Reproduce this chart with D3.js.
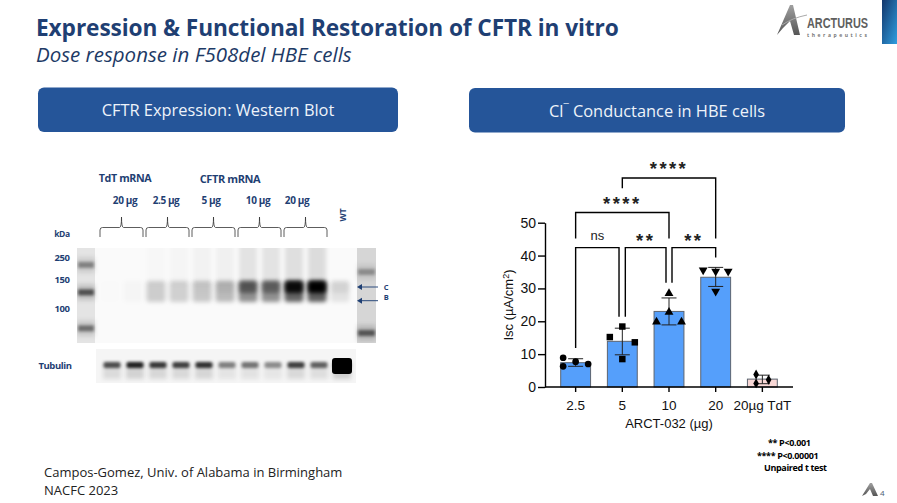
<!DOCTYPE html>
<html>
<head>
<meta charset="utf-8">
<script src="https://cdn.jsdelivr.net/npm/d3@7"></script>
<style>
html,body{margin:0;padding:0;background:#fff;}
svg{display:block;}
text{font-family:"Open Sans",sans-serif;}
.g text,.gt{font-family:"Liberation Sans",Arial,sans-serif;}
</style>
</head>
<body>
<svg id="c" width="897" height="503" viewBox="0 0 897 503"></svg>
<script>
// ---------- bar chart data ----------
const doses = ["2.5", "5", "10", "20", "20µg TdT"];
const barMeans = [7.4, 13.9, 23, 33.4, 2.4];
const errLow = [6.3, 9.8, 18.9, 30.6, 1.0];
const errHigh = [8.6, 17.9, 27.1, 36.4, 3.6];
const pts2_5 = [8.9, 7.7, 6.3, 7.0];
const pts5 = [18.4, 15.2, 13.6, 8.5];
const pts10 = [28.5, 22.8, 19.8, 19.8];
const pts20 = [35.6, 35.2, 35.2, 29.1];
const ptsTdT = [3.8, 2.2, 1.1];
const slots2_5 = [-1, 0, -1, 1];
const slots5 = [0, -1, 1, 0];
const slots10 = [0, 0, -1, 1];
const slots20 = [-1, 0, 1, 0];
const slotsTdT = [-0.5, 0.5, -0.5];
const yTicks = [0, 10, 20, 30, 40, 50];
// brackets: from group, to group, label, top value, end values
const brFrom = [0, 1, 2, 0, 1];
const brTo = [1, 2, 3, 2, 3];
const brLabel = ["ns", "**", "**", "****", "****"];
const brTop = [42.4, 42.4, 42.4, 53.1, 63.6];
const brEndA = [11.9, 21.4, 31.7, 45.2, 60.5];
const brEndB = [21.4, 31.7, 39.4, 45.2, 45.2];

// ---------- western blot data ----------
const laneNames = ["T1","T2","2.5a","2.5b","5a","5b","10a","10b","20a","20b","WT"];
const bandBody = [0.005, 0.02, 0.18, 0.17, 0.2, 0.25, 0.42, 0.42, 0.6, 0.62, 0.09];
const bandCore = [0, 0, 0, 0, 0.02, 0.06, 0.42, 0.36, 0.9, 1.0, 0.07];
const smear = [0, 0, 0.012, 0.02, 0.03, 0.04, 0.09, 0.09, 0.11, 0.12, 0.0];
const tubulin = [0.66, 0.85, 0.75, 0.72, 0.78, 0.45, 0.5, 0.4, 0.72, 0.58, 1.0];
const kdaLabels = [250, 150, 100];
const ladderLeft = [214, 127, 65];
const ladderLeftI = [0.38, 0.6, 0.46];
const ladderRight = [182, 57];
const ladderRightI = [0.3, 0.55];
const doseGroups = ["20 µg", "2.5 µg", "5 µg", "10 µg", "20 µg"];

const svg = d3.select("#c");
const defs = svg.append("defs");
const blur = (id, s) => defs.append("filter").attr("id", id)
  .attr("x", "-50%").attr("y", "-80%").attr("width", "200%").attr("height", "260%")
  .append("feGaussianBlur").attr("stdDeviation", s);
blur("b1", 1.6); blur("b2", 2.2); blur("b3", 3.2); blur("b4", 0.6);
const lg = defs.append("linearGradient").attr("id", "corner")
  .attr("x1", 0).attr("y1", 0).attr("x2", 1).attr("y2", 1);
lg.append("stop").attr("offset", 0).attr("stop-color", "#13366b");
lg.append("stop").attr("offset", 1).attr("stop-color", "#2f9ee0");
const lg2 = defs.append("linearGradient").attr("id", "logoG")
  .attr("x1", 0).attr("y1", 0).attr("x2", 0).attr("y2", 1);
lg2.append("stop").attr("offset", 0).attr("stop-color", "#a0a0a0");
lg2.append("stop").attr("offset", 1).attr("stop-color", "#555");
defs.append("clipPath").attr("id", "blotClip").append("rect")
  .attr("x", 95).attr("y", 248).attr("width", 262).attr("height", 95);
defs.append("clipPath").attr("id", "tubClip").append("rect")
  .attr("x", 96).attr("y", 349).attr("width", 260).attr("height", 34);
defs.append("clipPath").attr("id", "ladClip").append("rect")
  .attr("x", 77).attr("y", 248).attr("width", 299).attr("height", 95);

const navy = "#1f3f73";

// ---------- header ----------
svg.append("text").attr("x", 36).attr("y", 36).attr("fill", navy)
  .attr("font-size", 22.7).attr("font-weight", 700).style("letter-spacing", "-0.1px")
  .text("Expression & Functional Restoration of CFTR in vitro");
svg.append("text").attr("x", 36).attr("y", 62).attr("fill", "#1d3a66")
  .attr("font-size", 20.5).attr("font-style", "italic")
  .text("Dose response in F508del HBE cells");

function btn(x, y, w, h) {
  svg.append("rect").attr("x", x).attr("y", y).attr("width", w).attr("height", h)
    .attr("rx", 6).attr("fill", "#255599");
}
btn(38, 87.5, 360, 44.5);
btn(469, 88, 376, 44.5);
svg.append("text").attr("x", 218).attr("y", 116).attr("text-anchor", "middle")
  .attr("fill", "#eef3fa").attr("font-size", 16.4).text("CFTR Expression: Western Blot");
const cl = svg.append("text").attr("x", 657).attr("y", 117).attr("text-anchor", "middle")
  .attr("fill", "#eef3fa").attr("font-size", 16.4);
cl.append("tspan").text("Cl");
cl.append("tspan").attr("dy", -5).attr("font-size", 10.5).text("¯");
cl.append("tspan").attr("dy", 5).text(" Conductance in HBE cells");

// ---------- logo ----------
svg.append("rect").attr("x", 882).attr("y", 0).attr("width", 15).attr("height", 44).attr("fill", "url(#corner)");
const logoLine = d3.line();
svg.append("path").attr("fill", "url(#logoG)")
  .attr("d", logoLine([[777,35],[790,5],[793,5],[800,35],[794,35],[790,21],[783,28]]) + "Z");
svg.append("path").attr("fill", "none").attr("stroke", "#aaa").attr("stroke-width", 1)
  .attr("d", "M782 25Q792 18 807 15");
svg.append("text").attr("x", 807).attr("y", 28).attr("fill", "#5f5f5f").attr("font-size", 14)
  .attr("font-weight", 700).style("font-family", "'Liberation Sans Narrow','Liberation Sans'")
  .attr("textLength", 61).attr("lengthAdjust", "spacingAndGlyphs").text("ARCTURUS");
svg.append("text").attr("x", 807).attr("y", 37).attr("fill", "#777").attr("font-size", 5)
  .attr("font-weight", 700).attr("textLength", 60).text("therapeutics");

// ---------- western blot ----------
const lane = d3.scalePoint().domain(laneNames).range([112, 342]);
const laneM = n => lane(n) - 2;
const kda = d3.scaleLinear().domain([57, 100, 150, 250]).range([333, 308, 279, 257]);

svg.append("rect").attr("x", 77).attr("y", 248).attr("width", 299).attr("height", 95).attr("fill", "#fafafa");
const blot = svg.append("g").attr("clip-path", "url(#blotClip)");
const ink = (v, k) => `rgba(0,0,0,${Math.min(1, v * k)})`;
// smear upward
blot.selectAll(".sm").data(laneNames).join("rect")
  .attr("x", d => laneM(d) - 9).attr("width", 18)
  .attr("y", 240).attr("height", 45)
  .attr("fill", (d, i) => ink(smear[i], 1)).attr("filter", "url(#b2)");
// broad body of the band
blot.selectAll(".ha").data(laneNames).join("rect")
  .attr("x", d => laneM(d) - 9.5).attr("width", 19)
  .attr("y", kda(150) + 2).attr("height", 21).attr("rx", 3)
  .attr("fill", (d, i) => ink(bandBody[i], 1)).attr("filter", "url(#b2)");
// dense core of the band
blot.selectAll(".bd").data(laneNames).join("rect")
  .attr("x", d => laneM(d) - 9).attr("width", 18)
  .attr("y", kda(150) + 2).attr("height", 12).attr("rx", 3)
  .attr("fill", (d, i) => ink(bandCore[i], 1)).attr("filter", "url(#b2)");

// ladders
function ladder(x, w, fill, vals, ints) {
  const g = svg.append("g").attr("clip-path", "url(#ladClip)");
  g.append("rect").attr("x", x).attr("y", 248).attr("width", w).attr("height", 95).attr("fill", fill);
  g.selectAll("rect.l").data(vals).join("rect").attr("class", "l")
    .attr("x", x + 1).attr("width", w - 2)
    .attr("y", d => kda(d) - 3).attr("height", 6)
    .attr("fill", (d, i) => ink(ints[i], 1)).attr("filter", "url(#b1)");
  g.selectAll("rect.h").data(vals).join("rect").attr("class", "h")
    .attr("x", x).attr("width", w)
    .attr("y", d => kda(d) - 8).attr("height", 16)
    .attr("fill", (d, i) => ink(ints[i], 0.25)).attr("filter", "url(#b2)");
}
ladder(77, 18, "#e4e4e4", ladderLeft, ladderLeftI);
ladder(357, 19, "#d6d6d6", ladderRight, ladderRightI);

// tubulin
svg.append("rect").attr("x", 96).attr("y", 349).attr("width", 260).attr("height", 34).attr("fill", "#f5f5f5");
const tub = svg.append("g").attr("clip-path", "url(#tubClip)");
tub.selectAll(".ts").data(laneNames).join("rect")
  .attr("x", d => lane(d) - 9).attr("width", 18).attr("y", 363).attr("height", 16)
  .attr("fill", (d, i) => ink(tubulin[i], 0.16)).attr("filter", "url(#b2)");
tub.selectAll(".tb").data(laneNames).join("rect")
  .attr("x", d => lane(d) - 8.5).attr("width", 17)
  .attr("y", 362).attr("height", 6).attr("rx", 2)
  .attr("fill", (d, i) => ink(tubulin[i], 1)).attr("filter", "url(#b1)");
tub.selectAll(".tc").data(laneNames.slice(10)).join("rect")
  .attr("x", d => lane(d) - 10).attr("width", 20).attr("y", 358).attr("height", 16).attr("rx", 3)
  .attr("fill", "#000").attr("filter", "url(#b4)");

// lane-group braces
const groups = d3.range(5).map(i => (laneM(laneNames[2 * i]) + laneM(laneNames[2 * i + 1])) / 2);
svg.selectAll(".brace").data(groups).join("path").attr("fill", "none")
  .attr("stroke", "#333").attr("stroke-width", 0.8)
  .attr("d", c => `M${c-21.5} 237V230Q${c-21.5} 227.5 ${c-19} 227.5H${c-2}Q${c} 227.5 ${c} 217Q${c} 227.5 ${c+2} 227.5H${c+19}Q${c+21.5} 227.5 ${c+21.5} 230V237`);

const lab = (x, y, t, size, anchor) => svg.append("text").attr("x", x).attr("y", y)
  .attr("fill", navy).attr("font-size", size).attr("font-weight", 700)
  .attr("text-anchor", anchor || "middle").style("letter-spacing", "-0.4px").text(t);
lab(125, 181.5, "TdT mRNA", 10.7);
lab(230, 182.5, "CFTR mRNA", 11);
[125, 166, 211, 258, 297].forEach((x, i) => lab(x, 203.5, doseGroups[i], 10));
lab(62, 237, "kDa", 8.5);
kdaLabels.forEach(k => lab(62, kda(k) + 3.5, k, 9.5));
lab(55, 369, "Tubulin", 9.5);
svg.append("text").attr("transform", "translate(346,215) rotate(-90)").attr("text-anchor", "middle")
  .attr("fill", navy).attr("font-size", 8.5).attr("font-weight", 700).text("WT");
lab(386, 290, "C", 7.5);
lab(386, 300, "B", 7.5);
[287, 300.7].forEach(y => {
  svg.append("line").attr("x1", 378).attr("x2", 360).attr("y1", y).attr("y2", y)
    .attr("stroke", "#2a4a7c").attr("stroke-width", 1);
  svg.append("path").attr("fill", "#1f3f73").attr("d", `M357 ${y}l5 -3v6z`);
});

// ---------- bar chart ----------
const x = d3.scaleBand().domain(doses).range([552.3, 785.7]).paddingInner(0.36).paddingOuter(0.18);
const y = d3.scaleLinear().domain([0, 50]).range([387, 222.7]);
const g = svg.append("g").attr("class", "g");
const xc = d => x(d) + x.bandwidth() / 2;

g.selectAll(".bar").data(doses).join("rect")
  .attr("x", d => x(d)).attr("width", x.bandwidth())
  .attr("y", (d, i) => y(barMeans[i])).attr("height", (d, i) => y(0) - y(barMeans[i]))
  .attr("fill", (d, i) => i === 4 ? "#f8d7d5" : "#559ffb")
  .attr("stroke", "#5c6470").attr("stroke-width", 1);

// error bars
doses.forEach((d, i) => {
  const c = xc(d), cap = 7.5;
  g.append("path").attr("fill", "none").attr("stroke", "#222").attr("stroke-width", 1)
    .attr("d", `M${c-cap} ${y(errHigh[i])}H${c+cap}M${c} ${y(errHigh[i])}V${y(errLow[i])}M${c-cap} ${y(errLow[i])}H${c+cap}`);
});

// points
const ptSeries = [pts2_5, pts5, pts10, pts20, ptsTdT];
const slotSeries = [slots2_5, slots5, slots10, slots20, slotsTdT];
const symbols = [d3.symbolCircle, d3.symbolSquare, d3.symbolTriangle, d3.symbolTriangle, d3.symbolDiamond];
const rot = [0, 0, 0, 180, 0];
const sizes = [35, 42, 34, 34, 28];
ptSeries.forEach((vals, i) => {
  g.selectAll(".p" + i).data(vals).join("path")
    .attr("d", d3.symbol().type(symbols[i]).size(sizes[i])())
    .attr("fill", "#000")
    .attr("transform", (v, j) => `translate(${xc(doses[i]) + slotSeries[i][j] * 12.5},${y(v)}) rotate(${rot[i]})`);
});

// axes
const ax = g.append("g").attr("transform", `translate(0,${y(0)})`)
  .call(d3.axisBottom(x).tickSize(5).tickPadding(6).tickSizeOuter(0));
ax.select(".domain").attr("d", "M545 0H793");
const ay = g.append("g").attr("transform", "translate(545,0)")
  .call(d3.axisLeft(y).tickValues(yTicks).tickSize(7).tickPadding(2).tickSizeOuter(0));
[ax, ay].forEach(a => {
  a.selectAll(".domain").attr("stroke", "#000").attr("stroke-width", 1.4);
  a.selectAll(".tick line").attr("stroke", "#000").attr("stroke-width", 1.4);
  a.selectAll("text").attr("fill", "#111").attr("font-size", 13.5);
});
ax.selectAll("text").attr("dy", "0.9em");
ay.selectAll("text").attr("font-size", 14);
g.append("text").attr("x", 669).attr("y", 428).attr("text-anchor", "middle").attr("fill", "#111")
  .attr("font-size", 13).text("ARCT-032 (µg)");
const yl = g.append("text").attr("transform", "translate(513,305) rotate(-90)")
  .attr("text-anchor", "middle").attr("fill", "#111").attr("font-size", 13);
yl.append("tspan").text("Isc (µA/cm");
yl.append("tspan").attr("dy", -4).attr("font-size", 9).text("2");
yl.append("tspan").attr("dy", 4).text(")");

// significance brackets
const brX = (idx, side) => xc(doses[idx]) + side;
brFrom.forEach((f, i) => {
  const narrow = i < 3;
  const a = brX(f, f === 0 || !narrow ? 0 : 3), b = brX(brTo[i], i === 0 ? -3.3 : i === 1 ? -3 : 0);
  const top = y(brTop[i]);
  g.append("path").attr("fill", "none").attr("stroke", "#000").attr("stroke-width", 1.4)
    .attr("d", `M${a} ${y(brEndA[i])}V${top}H${b}V${y(brEndB[i])}`);
  const t = g.append("text").attr("x", (a + b) / 2).attr("text-anchor", "middle").attr("fill", "#222");
  if (brLabel[i] === "ns") t.attr("y", top - 8).attr("font-size", 13).text("ns");
  else t.attr("y", top - (narrow ? 0.5 : 3)).attr("font-size", 18.5).attr("font-weight", 700).style("letter-spacing", "2.4px").text(brLabel[i]);
});

// ---------- footers ----------
const foot = (yy, t) => svg.append("text").attr("x", 44).attr("y", yy).attr("fill", "#222").attr("font-size", 13).text(t);
foot(477, "Campos-Gomez, Univ. of Alabama in Birmingham");
foot(495, "NACFC 2023");
const note = (xx, yy, t) => svg.append("text").attr("x", xx).attr("y", yy).attr("fill", "#000")
  .attr("font-size", 9).attr("font-weight", 700).style("letter-spacing", "-0.35px").text(t);
note(768, 446, "** P<0.001");
note(757, 459, "**** P<0.00001");
note(764, 471, "Unpaired t test");
svg.append("path").attr("fill", "url(#logoG)")
  .attr("d", logoLine([[862,496],[870,483],[872,483],[878,496],[873,496],[870,489],[866,494]]) + "Z");
svg.append("text").attr("x", 880).attr("y", 496).attr("fill", "#4a5a70").attr("font-size", 8).text("4");
</script>
</body>
</html>
